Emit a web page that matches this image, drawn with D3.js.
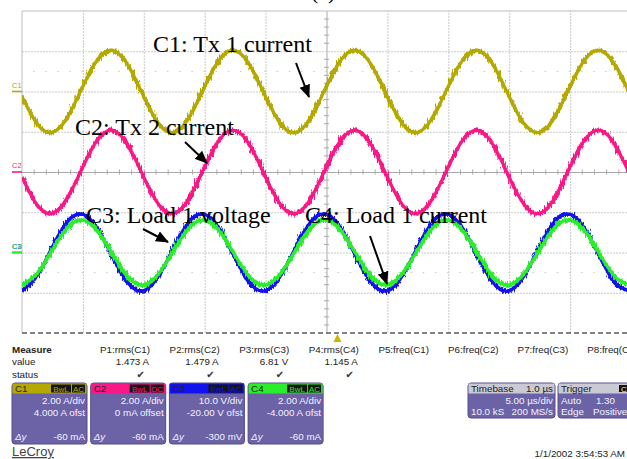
<!DOCTYPE html>
<html><head><meta charset="utf-8">
<script src="https://cdn.jsdelivr.net/npm/d3@7"></script>
<style>
html,body{margin:0;padding:0;background:#fff;}
svg{display:block;}
</style></head><body>
<svg id="c" width="627" height="459"></svg>
<script>
// ---- data ----
const timeUs = [0,1.25,2.5,3.75,5,6.25,7.5,8.75,10,11.25,12.5,13.75,15,16.25,17.5,18.75,20,21.25,22.5,23.75,25,26.25,27.5,28.75,30,31.25,32.5,33.75,35,36.25,37.5,38.75,40,41.25,42.5,43.75,45,46.25,47.5,48.75,50];
const c1Values = [-0.26,-1.62,-2.03,-1.26,0.26,1.62,2.03,1.26,-0.26,-1.62,-2.03,-1.26,0.26,1.62,2.03,1.26,-0.26,-1.62,-2.03,-1.26,0.26,1.62,2.03,1.26,-0.26,-1.62,-2.03,-1.26,0.26,1.62,2.03,1.26,-0.26,-1.62,-2.03,-1.26,0.26,1.62,2.03,1.26,-0.26];
const c2Values = [-0.26,-1.64,-2.06,-1.28,0.26,1.64,2.06,1.28,-0.26,-1.64,-2.06,-1.28,0.26,1.64,2.06,1.28,-0.26,-1.64,-2.06,-1.28,0.26,1.64,2.06,1.28,-0.26,-1.64,-2.06,-1.28,0.26,1.64,2.06,1.28,-0.26,-1.64,-2.06,-1.28,0.26,1.64,2.06,1.28,-0.26];
const c3Values = [-9.49,-5.69,1.44,7.73,9.49,5.69,-1.44,-7.73,-9.49,-5.69,1.44,7.73,9.49,5.69,-1.44,-7.73,-9.49,-5.69,1.44,7.73,9.49,5.69,-1.44,-7.73,-9.49,-5.69,1.44,7.73,9.49,5.69,-1.44,-7.73,-9.49,-5.69,1.44,7.73,9.49,5.69,-1.44,-7.73,-9.49];
const c4Values = [-1.61,-1.03,0.15,1.25,1.61,1.03,-0.15,-1.25,-1.61,-1.03,0.15,1.25,1.61,1.03,-0.15,-1.25,-1.61,-1.03,0.15,1.25,1.61,1.03,-0.15,-1.25,-1.61,-1.03,0.15,1.25,1.61,1.03,-0.15,-1.25,-1.61,-1.03,0.15,1.25,1.61,1.03,-0.15,-1.25,-1.61];
const channelNames = ["C1","C2","C3","C4"];
const channelColors = ["#b4a900","#fa1886","#1212ee","#2aee2a"];
const unitsPerDiv = [2,2,10,2];
const channelOffsets = [4,0,-20,-4];
const couplings = ["AC","DC","AC","AC"];
const scaleTexts = ["2.00 A/div","2.00 A/div","10.0 V/div","2.00 A/div"];
const offsetTexts = ["4.000 A ofst","0 mA offset","-20.00 V ofst","-4.000 A ofst"];
const deltaTexts = ["-60 mA","-60 mA","-300 mV","-60 mA"];
const measureLabels = ["P1:rms(C1)","P2:rms(C2)","P3:rms(C3)","P4:rms(C4)","P5:freq(C1)","P6:freq(C2)","P7:freq(C3)","P8:freq(C4)"];
const measureValues = ["1.473 A","1.479 A","6.81 V","1.145 A","","","",""];
const measureStatus = [true,true,true,true,false,false,false,false];
const annotationTexts = ["C1: Tx 1 current","C2: Tx 2 current","C3: Load 1 voltage","C4: Load 1 current"];
const gridTimes = [5,10,15,20,25,30,35,40,45];
const gridDivs = [-3,-2,-1,0,1,2,3];
const series = [c1Values,c2Values,c3Values,c4Values];

// ---- drawing ----
(function(){
const svg = d3.select("#c");
const defs = svg.append("defs");
const x = d3.scaleLinear().domain([0,50]).range([22,631]);
const yDiv = d3.scaleLinear().domain([-4,4]).range([333,11]);
const pL = x(0), pR = 627, pT = yDiv(4), pB = yDiv(-4);

defs.append("clipPath").attr("id","plot").append("rect")
  .attr("x",pL).attr("y",pT).attr("width",pR-pL).attr("height",pB-pT);
const f = defs.append("filter").attr("id","noise").attr("filterUnits","userSpaceOnUse")
  .attr("x",0).attr("y",0).attr("width",627).attr("height",459);
f.append("feTurbulence").attr("type","fractalNoise").attr("baseFrequency","0.7 0.12")
  .attr("numOctaves",2).attr("seed",4).attr("result","t");
f.append("feDisplacementMap").attr("in","SourceGraphic").attr("in2","t")
  .attr("scale",7).attr("xChannelSelector","G").attr("yChannelSelector","R");
const mk = defs.append("marker").attr("id","arr").attr("markerUnits","userSpaceOnUse")
  .attr("markerWidth",14).attr("markerHeight",14).attr("viewBox","0 0 14 14")
  .attr("refX",12).attr("refY",7).attr("orient","auto");
mk.append("path").attr("d","M0,1.5 L13,7 L0,12.5 Z").attr("fill","#000");

// partial title at top (cut off in the original)
svg.append("text").attr("x",311).attr("y",-1.5).attr("font-family","Liberation Serif")
  .attr("font-size",22).text("(c)");

// grid
const grid = svg.append("g");
grid.append("g").attr("transform",`translate(0,${pB})`)
  .call(d3.axisBottom(x).tickValues(gridTimes).tickSize(-(pB-pT)).tickFormat(""))
  .call(g=>g.select(".domain").remove())
  .selectAll("line").attr("stroke",d=>d===25?"#a9a9a9":"#cacaca").attr("stroke-dasharray",d=>d===25?null:"2,1");
grid.append("g").attr("transform",`translate(${pL},0)`)
  .call(d3.axisLeft(yDiv).tickValues(gridDivs).tickSize(-(x(50)-pL)).tickFormat(""))
  .call(g=>g.select(".domain").remove())
  .selectAll("line").attr("stroke",d=>d===0?"#a9a9a9":"#cacaca").attr("stroke-dasharray",d=>d===0?null:"2,1");
// dotted rows
[2.5,-2.5].forEach(v=>{
  grid.append("line").attr("x1",pL).attr("x2",pR).attr("y1",yDiv(v)).attr("y2",yDiv(v))
    .attr("stroke","#c4c4c4").attr("stroke-dasharray","1.5,10.68").attr("stroke-dashoffset",-11);
});
// minor ticks on centre cross
const minorT = d3.range(1,50,1).filter(t=>t%5!==0);
grid.selectAll(".mt").data(minorT).join("line")
  .attr("x1",d=>x(d)).attr("x2",d=>x(d)).attr("y1",yDiv(0)-2.5).attr("y2",yDiv(0)+2.5).attr("stroke","#a9a9a9");
const minorD = d3.range(-3.8,4,0.2).filter(d=>Math.abs(d-Math.round(d))>0.01);
grid.selectAll(".md").data(minorD).join("line")
  .attr("y1",d=>yDiv(d)).attr("y2",d=>yDiv(d)).attr("x1",x(25)-2.5).attr("x2",x(25)+2.5).attr("stroke","#a9a9a9");
// borders
grid.append("line").attr("x1",pL).attr("x2",pR).attr("y1",pT).attr("y2",pT).attr("stroke","#bdbdbd");
grid.append("line").attr("x1",pL).attr("x2",pL).attr("y1",pT).attr("y2",pB).attr("stroke","#bdbdbd");
grid.append("line").attr("x1",pL).attr("x2",pR).attr("y1",pB).attr("y2",pB)
  .attr("stroke","#5a5a5a").attr("stroke-width",1.6).attr("stroke-dasharray","5,3");
// trigger marker
svg.append("path").attr("d",`M${x(25.9)},${pB+1} l-4,8 l8,0 Z`).attr("fill","#c9b500");

// channel ground markers
channelNames.forEach((n,i)=>{
  const yy = yDiv(channelOffsets[i]/unitsPerDiv[i]);
  svg.append("line").attr("x1",12).attr("x2",pL).attr("y1",yy).attr("y2",yy)
    .attr("stroke",channelColors[i]).attr("stroke-width",1.6);
  svg.append("text").attr("x",12).attr("y",yy-4).attr("font-family","Liberation Sans")
    .attr("font-size",7.5).attr("fill",channelColors[i]).text(n);
});

// traces
const traces = svg.append("g").attr("clip-path","url(#plot)");
series.forEach((vals,i)=>{
  const line = d3.line().x((d,k)=>x(timeUs[k]))
    .y(d=>yDiv((d+channelOffsets[i])/unitsPerDiv[i])).curve(d3.curveNatural);
  const g = traces.append("g");
  g.append("path").attr("d",line(vals)).attr("fill","none").attr("stroke",channelColors[i])
    .attr("stroke-width",3.8).attr("filter","url(#noise)");
  g.append("path").attr("d",line(vals)).attr("fill","none").attr("stroke",channelColors[i])
    .attr("stroke-width",3.2);
});

// annotations
const annPos = [[153,52],[75,135],[86,223],[305,223]];
const arrows = [[296,63,309,97],[185,142,207,163],[143,229,168,242],[370,236,387,284]];
arrows.forEach(a=>{
  svg.append("line").attr("x1",a[0]).attr("y1",a[1]).attr("x2",a[2]).attr("y2",a[3])
    .attr("stroke","#000").attr("stroke-width",2).attr("marker-end","url(#arr)");
});
annotationTexts.forEach((t,i)=>{
  svg.append("text").attr("x",annPos[i][0]).attr("y",annPos[i][1])
    .attr("font-family","Liberation Serif").attr("font-size",24).attr("fill","#000").text(t);
});

// measure panel
const sans = "Liberation Sans";
const mp = svg.append("g").attr("font-family",sans).attr("font-size",9.8).attr("fill","#222");
mp.append("text").attr("x",12).attr("y",353).attr("font-weight","bold").text("Measure");
mp.append("text").attr("x",12).attr("y",365).text("value");
mp.append("text").attr("x",12).attr("y",377.5).text("status");
measureLabels.forEach((l,i)=>{
  const cx = 100 + i*69.6;
  mp.append("text").attr("x",cx).attr("y",353).text(l);
  if (measureValues[i]) mp.append("text").attr("x",cx+49).attr("y",365).attr("text-anchor","end").text(measureValues[i]);
  if (measureStatus[i]) mp.append("text").attr("x",cx+45).attr("y",378).attr("text-anchor","end")
    .attr("font-family","DejaVu Sans").attr("font-size",10).attr("fill","#333").text("\u2714");
});

// channel boxes
const boxFill = "#6c62a6", boxText = "#f2f2ff";
channelNames.forEach((n,i)=>{
  const bx = 12 + i*78.7, bw = 75, by = 383, bh = 61;
  const g = svg.append("g").attr("font-family",sans);
  g.append("rect").attr("x",bx).attr("y",by).attr("width",bw).attr("height",bh).attr("rx",3)
    .attr("fill",boxFill).attr("stroke","#544a8a").attr("stroke-width",1);
  g.append("rect").attr("x",bx+0.5).attr("y",by+0.5).attr("width",bw-1).attr("height",10)
    .attr("fill",channelColors[i]);
  g.append("text").attr("x",bx+3).attr("y",by+9).attr("font-size",9.8).attr("fill","#222").text(n);
  const r = bx + bw - 1;
  g.append("rect").attr("x",r-14).attr("y",by+1.5).attr("width",13).attr("height",8).attr("fill","#151515");
  g.append("rect").attr("x",r-35).attr("y",by+1.5).attr("width",20).attr("height",8).attr("fill","#151515");
  g.append("text").attr("x",r-7.5).attr("y",by+8.5).attr("text-anchor","middle").attr("font-size",8)
    .attr("fill",channelColors[i]).text(couplings[i]);
  g.append("text").attr("x",r-25).attr("y",by+8.5).attr("text-anchor","middle").attr("font-size",8)
    .attr("fill",channelColors[i]).text("BwL");
  g.append("text").attr("x",bx+bw-2).attr("y",by+21).attr("text-anchor","end").attr("font-size",9.8)
    .attr("fill",boxText).text(scaleTexts[i]);
  g.append("text").attr("x",bx+bw-2).attr("y",by+33).attr("text-anchor","end").attr("font-size",9.8)
    .attr("fill",boxText).text(offsetTexts[i]);
  g.append("text").attr("x",bx+3).attr("y",by+57).attr("font-size",9.8).attr("font-style","italic")
    .attr("fill",boxText).text("\u0394y");
  g.append("text").attr("x",bx+bw-2).attr("y",by+57).attr("text-anchor","end").attr("font-size",9.8)
    .attr("fill",boxText).text(deltaTexts[i]);
});

// timebase & trigger
const tb = svg.append("g").attr("font-family",sans).attr("font-size",9.8);
tb.append("rect").attr("x",468).attr("y",383).attr("width",87).attr("height",35).attr("rx",3)
  .attr("fill",boxFill).attr("stroke","#544a8a");
tb.append("rect").attr("x",468.5).attr("y",383.5).attr("width",86).attr("height",10).attr("fill","#cacad4");
tb.append("text").attr("x",471).attr("y",392).attr("fill","#222").text("Timebase");
tb.append("text").attr("x",553).attr("y",392).attr("text-anchor","end").attr("fill","#222").text("1.0 \u00b5s");
tb.append("text").attr("x",553).attr("y",404).attr("text-anchor","end").attr("fill",boxText).text("5.00 \u00b5s/div");
tb.append("text").attr("x",471).attr("y",415).attr("fill",boxText).text("10.0 kS");
tb.append("text").attr("x",553).attr("y",415).attr("text-anchor","end").attr("fill",boxText).text("200 MS/s");
tb.append("rect").attr("x",558).attr("y",383).attr("width",90).attr("height",35).attr("rx",3)
  .attr("fill",boxFill).attr("stroke","#544a8a");
tb.append("rect").attr("x",558.5).attr("y",383.5).attr("width",89).attr("height",10).attr("fill","#cacad4");
tb.append("text").attr("x",561).attr("y",392).attr("fill","#222").text("Trigger");
tb.append("rect").attr("x",619).attr("y",385).attr("width",14).attr("height",7).attr("fill","#111");
tb.append("text").attr("x",621).attr("y",391.5).attr("font-size",8).attr("fill","#eee").text("C");
tb.append("text").attr("x",561).attr("y",404).attr("fill",boxText).text("Auto");
tb.append("text").attr("x",615).attr("y",404).attr("text-anchor","end").attr("fill",boxText).text("1.30");
tb.append("text").attr("x",561).attr("y",415).attr("fill",boxText).text("Edge");
tb.append("text").attr("x",593).attr("y",415).attr("fill",boxText).text("Positive");

// footer
svg.append("text").attr("x",12).attr("y",456).attr("font-family",sans).attr("font-size",13)
  .attr("fill","#444").attr("text-decoration","underline").text("LeCroy");
svg.append("text").attr("x",625).attr("y",457).attr("text-anchor","end").attr("font-family",sans)
  .attr("font-size",9.8).attr("fill","#222").text("1/1/2002 3:54:53 AM");
})();
</script>
</body></html>
